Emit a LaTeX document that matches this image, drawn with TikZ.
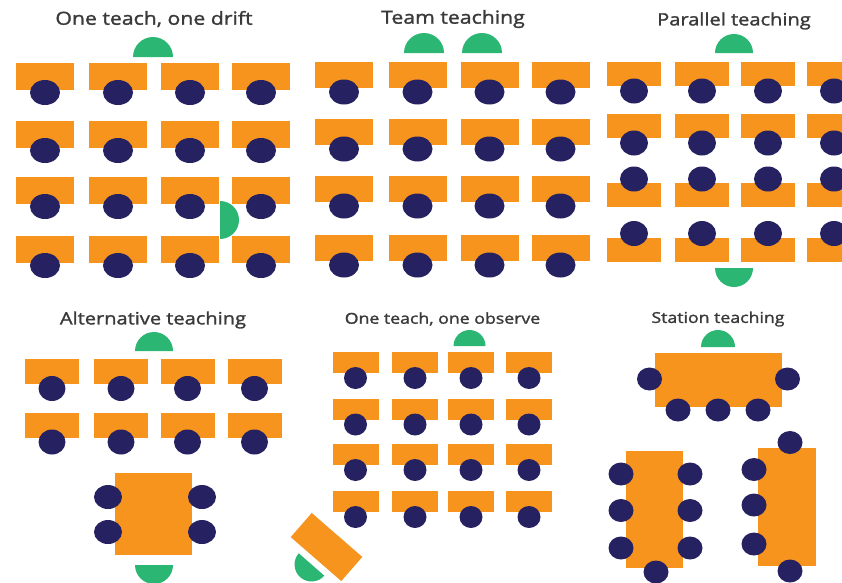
\documentclass[tikz,border=0pt]{standalone}
\usepackage{fontspec}
\setmainfont{Open Sans}
\newfontfamily\titlefont{Open Sans}[FakeStretch=1.18, FakeBold=1.6]
\usetikzlibrary{shapes.geometric}
\definecolor{deskorange}{RGB}{247,148,30}
\definecolor{chairnavy}{RGB}{38,34,97}
\definecolor{teachgreen}{RGB}{44,182,115}
\definecolor{titlegray}{RGB}{58,58,58}
\tikzstyle{desk} = [rectangle, inner sep=0pt, fill=deskorange]
\tikzstyle{chair} = [ellipse, inner sep=0pt, minimum width=28pt, minimum height=25pt, fill=chairnavy]
\tikzstyle{teacher} = [fill=teachgreen]
\tikzstyle{title} = [text=titlegray, inner sep=0pt]

\begin{document}
\begin{tikzpicture}[x=1pt, y=-1pt]
\useasboundingbox (0,0) rectangle (842,582);

% one teach, one drift
\node (drift) [title, font=\titlefont\fontsize{18}{18}\selectfont] at (154,19) {One teach, one drift};
\foreach \c/\x in {1/45,2/118,3/190,4/261}
  \foreach \r/\y in {1/76.5,2/134.5,3/190.5,4/249.5} {
    \node (drift-desk-\c\r) [desk, minimum width=58pt, minimum height=27pt] at (\x,\y) {};
    \node (drift-chair-\c\r) [chair, minimum width=30pt] at (\x,\y+16) {};
  }
\fill [teacher] (133,57) arc (180:360:20) -- cycle;
\fill [teacher] (220,201) arc (270:450:19) -- cycle;

% team teaching
\node (team) [title, font=\titlefont\fontsize{18}{18}\selectfont] at (453,19) {Team teaching};
\foreach \c/\x in {1/344,2/417.5,3/489.5,4/560.5}
  \foreach \r/\y in {1/75,2/132,3/189,4/248} {
    \node (team-desk-\c\r) [desk, minimum width=58pt, minimum height=26pt] at (\x,\y) {};
    \node (team-chair-\c\r) [chair, minimum width=30pt] at (\x,\y+17) {};
  }
\fill [teacher] (404,53) arc (180:360:20) -- cycle;
\fill [teacher] (462,53) arc (180:360:20) -- cycle;

% parallel teaching
\node (parallel) [title, font=\titlefont\fontsize{17}{17}\selectfont] at (734,21) {Parallel teaching};
\foreach \c/\x in {1/634,2/702,3/768,4/834} {
  \foreach \r/\y in {1/74,2/126} {
    \node (par-desk-\c\r) [desk, minimum width=54pt, minimum height=24pt] at (\x,\y) {};
    \node (par-chair-\c\r) [chair] at (\x,\y+17) {};
  }
  \foreach \r/\y in {3/195,4/249.5} {
    \node (par-desk-\c\r) [desk, minimum width=54pt, minimum height=24pt] at (\x,\y) {};
    \node (par-chair-\c\r) [chair] at (\x,\y-16) {};
  }
}
\fill [teacher] (715,53) arc (180:360:19) -- cycle;
\fill [teacher] (715,268) arc (180:0:19) -- cycle;

% alternative teaching
\node (alternative) [title, font=\titlefont\fontsize{17}{17}\selectfont] at (153,320) {Alternative teaching};
\foreach \c/\x in {1/52,2/121,3/187.5,4/254.5}
  \foreach \r/\y in {1/371.5,2/425} {
    \node (alt-desk-\c\r) [desk, minimum width=54pt, minimum height=25pt] at (\x,\y) {};
    \node (alt-chair-\c\r) [chair, minimum width=27pt] at (\x,\y+17) {};
  }
\node (alt-table) [desk, minimum width=77pt, minimum height=82pt] at (153.5,514) {};
\foreach \s/\x in {l/108,r/202}
  \foreach \r/\y in {1/497,2/532}
    \node (alt-group-\s\r) [chair, minimum height=24pt] at (\x,\y) {};
\fill [teacher] (135,351) arc (180:360:19) -- cycle;
\fill [teacher] (135,565) arc (180:0:19) -- cycle;

% one teach, one observe
\node (observe) [title, font=\titlefont\fontsize{15}{15}\selectfont] at (442.5,319) {One teach, one observe};
\foreach \c/\x in {1/355.5,2/415,3/471,4/529}
  \foreach \r/\y in {1/362.5,2/409,3/454.5,4/501.5} {
    \node (obs-desk-\c\r) [desk, minimum width=46pt, minimum height=21pt] at (\x,\y) {};
    \node (obs-chair-\c\r) [chair, minimum width=23pt, minimum height=22pt] at (\x,\y+15.5) {};
  }
\node (obs-table) [desk, minimum width=67pt, minimum height=32pt, rotate=-41] at (326.5,547) {};
\fill [teacher] (469.5,346) ++(-16,0) arc (180:360:16) -- cycle;
\fill [teacher] (324.3,575.7) arc (41.3:221.3:17) -- cycle;

% station teaching
\node (station) [title, font=\titlefont\fontsize{15}{15}\selectfont] at (718,319) {Station teaching};
\node (st-table-a) [desk, minimum width=127pt, minimum height=54pt] at (718.5,380) {};
\node (st-table-b) [desk, minimum width=57pt, minimum height=117pt] at (654.5,509.5) {};
\node (st-table-c) [desk, minimum width=58pt, minimum height=118pt] at (787,507) {};
\foreach \n/\x/\y in {1/649.5/379,2/787.5/379,3/678/410,4/718/410,5/758/410}
  \node (st-chair-a\n) [chair, minimum width=25pt, minimum height=23pt] at (\x,\y) {};
\foreach \n/\x/\y in {1/621/474,2/621/510.5,3/621/548,4/690/474,5/690/510.5,6/690/548,7/656/572}
  \node (st-chair-b\n) [chair, minimum width=25pt, minimum height=23pt] at (\x,\y) {};
\foreach \n/\x/\y in {1/790/442.5,2/754/469.5,3/754/505,4/754/544,5/790/571}
  \node (st-chair-c\n) [chair, minimum width=25pt, minimum height=23pt] at (\x,\y) {};
\fill [teacher] (701,347) arc (180:360:17) -- cycle;
\end{tikzpicture}
\end{document}
